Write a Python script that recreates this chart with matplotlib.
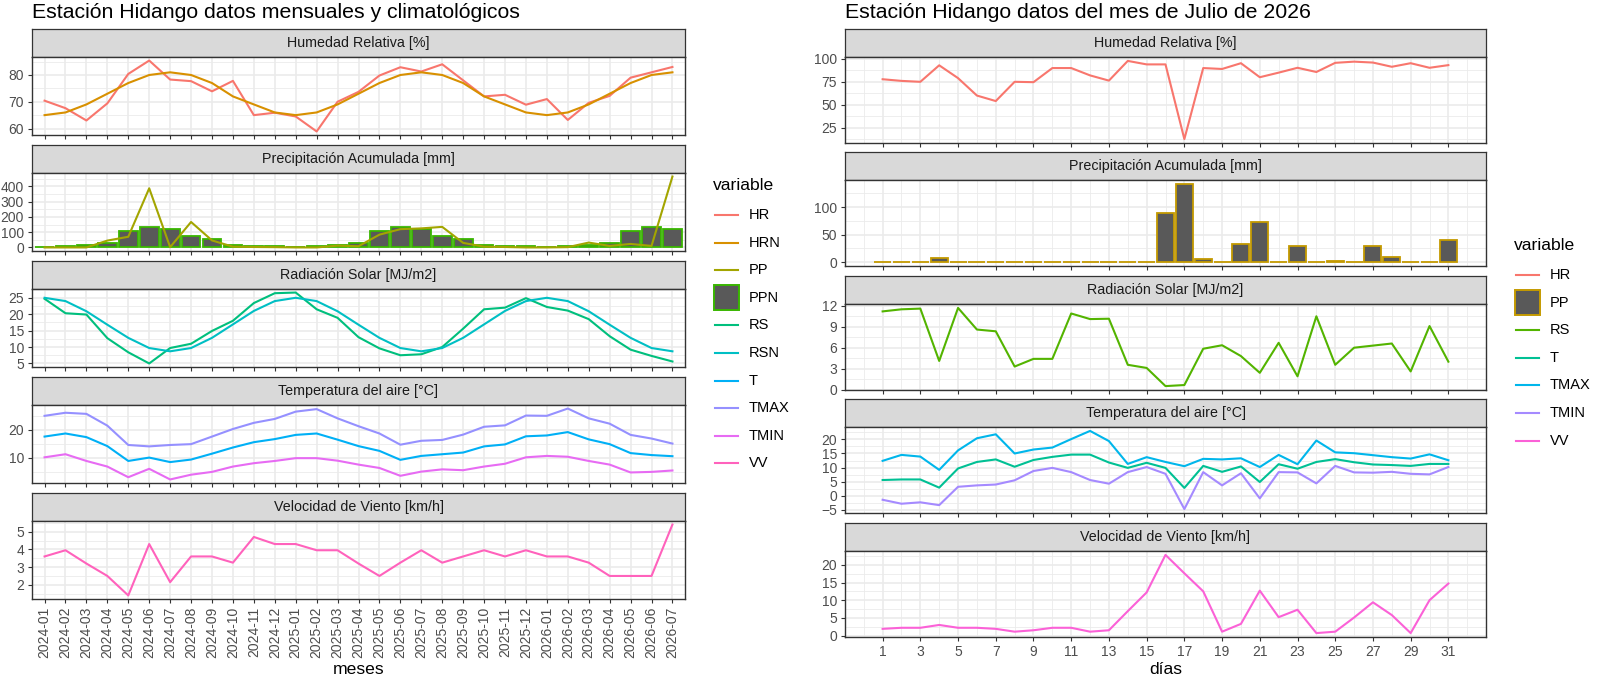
import matplotlib.pyplot as plt
import numpy as np
from matplotlib.lines import Line2D
from matplotlib.patches import Rectangle

plt.rcParams["font.family"] = ["Liberation Sans", "DejaVu Sans"]

# ---- monthly / climatological data (left chart) ----
meses = [
    "2024-01", "2024-02", "2024-03", "2024-04", "2024-05", "2024-06", "2024-07",
    "2024-08", "2024-09", "2024-10", "2024-11", "2024-12", "2025-01", "2025-02",
    "2025-03", "2025-04", "2025-05", "2025-06", "2025-07", "2025-08", "2025-09",
    "2025-10", "2025-11", "2025-12", "2026-01", "2026-02", "2026-03", "2026-04",
    "2026-05", "2026-06", "2026-07",
]
hr_m = [70.4, 67.6, 63.0, 69.4, 80.4, 85.4, 78.3, 77.7, 73.9, 77.8, 65.0, 65.9,
        64.5, 58.9, 70.0, 73.7, 79.8, 82.9, 81.3, 84.0, 78.0, 72.0, 72.6, 68.9,
        71.0, 63.2, 69.6, 72.2, 79.0, 81.0, 83.0]
hrn_m = [65, 66, 69, 73, 77, 80, 81, 80, 77, 72, 69, 66,
         65, 66, 69, 73, 77, 80, 81, 80, 77, 72, 69, 66,
         65, 66, 69, 73, 77, 80, 81]
pp_m = [0, 0, 0, 45, 70, 388, 2, 167, 46, 5, 3, 2,
        0, 0, 12, 8, 84, 120, 125, 135, 30, 5, 3, 0,
        0, 2, 32, 10, 23, 10, 465]
ppn_m = [1, 7, 18, 30, 110, 135, 122, 78, 55, 18, 12, 7,
         1, 7, 18, 30, 110, 135, 122, 78, 55, 18, 12, 7,
         1, 7, 18, 30, 110, 135, 122]
rs_m = [24.7, 20.3, 19.9, 12.7, 8.4, 5.0, 9.7, 11.0, 14.9, 18.0, 23.4, 26.4,
        26.6, 21.5, 18.9, 13.0, 9.6, 7.5, 7.8, 10.0, 15.6, 21.5, 22.0, 24.9,
        22.2, 21.1, 18.5, 13.3, 9.2, 7.3, 5.6]
rsn_m = [25.0, 24.0, 20.9, 16.8, 12.8, 9.7, 8.7, 9.7, 12.8, 16.9, 21.0, 24.0,
         25.0, 24.0, 20.9, 16.8, 12.8, 9.7, 8.7, 9.7, 12.8, 16.9, 21.0, 24.0,
         25.0, 24.0, 20.9, 16.8, 12.8, 9.7, 8.7]
t_m = [17.5, 18.6, 17.3, 14.1, 8.8, 10.0, 8.4, 9.3, 11.4, 13.6, 15.5, 16.6,
       18.1, 18.6, 16.4, 14.1, 12.4, 9.2, 10.6, 11.2, 11.8, 14.0, 14.7, 17.6,
       17.9, 19.1, 16.5, 14.8, 11.6, 10.9, 10.5]
tmax_m = [24.9, 26.0, 25.6, 21.4, 14.5, 14.0, 14.5, 14.8, 17.5, 20.2, 22.4, 23.8,
          26.4, 27.3, 24.0, 21.2, 18.6, 14.6, 16.0, 16.3, 18.2, 21.0, 21.5, 25.0,
          24.9, 27.5, 24.0, 22.1, 18.1, 16.8, 15.0]
tmin_m = [10.1, 11.2, 8.8, 6.8, 3.0, 6.0, 2.2, 3.9, 4.9, 6.8, 8.0, 8.8,
          9.8, 9.8, 8.9, 7.5, 6.3, 3.5, 5.0, 5.8, 5.5, 6.8, 7.8, 10.1,
          10.6, 10.3, 8.8, 7.5, 4.7, 4.9, 5.4]
vv_m = [3.6, 3.95, 3.2, 2.5, 1.4, 4.3, 2.15, 3.6, 3.6, 3.25, 4.7, 4.3,
        4.3, 3.95, 3.95, 3.2, 2.5, 3.25, 3.95, 3.25, 3.6, 3.95, 3.6, 3.95,
        3.6, 3.6, 3.25, 2.5, 2.5, 2.5, 5.4]

# ---- daily data, July 2026 (right chart) ----
dias = list(range(1, 32))
hr_d = [77.8, 76.0, 75.0, 93.0, 79.0, 60.0, 54.0, 75.0, 74.6, 90.0, 90.0, 82.0,
        76.3, 97.8, 94.0, 94.0, 12.5, 90.0, 89.0, 95.3, 80.0, 85.0, 90.3, 85.7,
        95.7, 97.0, 96.0, 91.4, 95.3, 90.3, 93.2]
pp_d = [0, 0, 0, 8, 0, 0, 0, 0.5, 0, 0, 0, 0, 0, 1, 0.5, 90, 142, 5, 0, 33,
        72, 0, 30, 0, 2, 1, 29, 10, 0, 1, 41]
rs_d = [11.2, 11.5, 11.6, 4.1, 11.7, 8.6, 8.35, 3.3, 4.4, 4.4, 10.9, 10.1,
        10.15, 3.55, 3.1, 0.5, 0.65, 5.85, 6.35, 4.8, 2.4, 6.7, 1.9, 10.5,
        3.55, 6.0, 6.3, 6.6, 2.6, 9.1, 4.0]
t_d = [5.6, 5.8, 5.8, 2.9, 9.7, 12.0, 12.9, 10.3, 12.7, 13.8, 14.6, 14.6,
       11.8, 9.9, 11.7, 9.9, 2.8, 10.6, 8.5, 10.4, 4.9, 11.2, 9.6, 12.0,
       13.0, 11.9, 11.1, 10.9, 10.6, 11.3, 11.3]
tmax_d = [12.4, 14.5, 13.9, 9.2, 16.1, 20.4, 21.8, 15.0, 16.4, 17.1, 20.1, 23.0,
          19.4, 11.3, 13.7, 12.0, 10.5, 13.1, 12.9, 13.3, 10.2, 14.5, 11.2, 19.6,
          15.4, 15.1, 14.4, 13.7, 13.2, 14.7, 12.6]
tmin_d = [-1.4, -2.8, -2.3, -3.3, 3.2, 3.7, 4.0, 5.5, 8.8, 9.9, 8.4, 5.6,
          4.3, 8.4, 10.2, 7.8, -4.7, 8.4, 3.7, 8.0, -0.9, 8.4, 8.3, 4.4,
          10.6, 8.3, 8.2, 8.5, 7.8, 7.6, 10.2]
vv_d = [1.9, 2.2, 2.2, 3.0, 2.2, 2.2, 1.9, 1.1, 1.5, 2.2, 2.2, 1.1, 1.5, 6.9,
        12.2, 22.8, 17.6, 12.5, 1.1, 3.3, 12.7, 5.2, 7.3, 0.7, 1.1, 5.1, 9.4,
        5.8, 0.7, 10.0, 14.7]

# ggplot hue palettes
COL_M = {"HR": "#F8766D", "HRN": "#D89000", "PP": "#A3A500", "PPN": "#39B600",
         "RS": "#00BF7D", "RSN": "#00BFC4", "T": "#00B0F6", "TMAX": "#9590FF",
         "TMIN": "#E76BF3", "VV": "#FF62BC"}
COL_D = {"HR": "#F8766D", "PP": "#C49A00", "RS": "#53B400", "T": "#00C094",
         "TMAX": "#00B6EB", "TMIN": "#A58AFF", "VV": "#FB61D7"}

W, H = 1600, 676
BAR_FILL = "#595959"
STRIP_FILL = "#D9D9D9"
DARK = "#333333"
GRID = "#EBEBEB"
LW = 1.5
FS_TICK = 10
FS_STRIP = 10.3

fig = plt.figure(figsize=(W / 100, H / 100), dpi=100)


def box(x0, y0, x1, y1):
    return [x0 / W, 1 - y1 / H, (x1 - x0) / W, (y1 - y0) / H]


def expand(lo, hi, m=0.05):
    d = hi - lo
    return lo - d * m, hi + d * m


def facet(x0, x1, top, strip_h, panel_h, title):
    sax = fig.add_axes(box(x0, top, x1, top + strip_h))
    sax.set_facecolor(STRIP_FILL)
    sax.set_xticks([])
    sax.set_yticks([])
    for s in sax.spines.values():
        s.set_color(DARK)
        s.set_linewidth(0.9)
    sax.text(0.5, 0.5, title, ha="center", va="center", fontsize=FS_STRIP,
             color="#1A1A1A", transform=sax.transAxes)
    ax = fig.add_axes(box(x0, top + strip_h, x1, top + strip_h + panel_h))
    for s in ax.spines.values():
        s.set_color(DARK)
        s.set_linewidth(1.0)
    ax.tick_params(colors=DARK, labelcolor="#4D4D4D", labelsize=FS_TICK,
                   length=3.2, width=0.8, pad=2.5)
    ax.tick_params(which="minor", length=0)
    ax.set_axisbelow(True)
    return ax


def y_scale(ax, ticks, lo, hi):
    ylo, yhi = expand(lo, hi)
    ax.set_ylim(ylo, yhi)
    ax.set_yticks(ticks)
    step = ticks[1] - ticks[0]
    minor = np.arange(ticks[0] - step / 2, ticks[-1] + step, step)
    ax.set_yticks([m for m in minor if ylo < m < yhi], minor=True)
    ax.grid(True, which="major", axis="y", color=GRID, lw=1.2)
    ax.grid(True, which="minor", axis="y", color=GRID, lw=0.6)


def draw_legend(x0, y_title, names, colors, bar_name):
    fig.text(x0 / W, 1 - y_title / H, "variable", fontsize=12.6,
             va="center", ha="left", color="black")
    for i, n in enumerate(names):
        y = y_title + 30 + 27.6 * i
        fy = 1 - y / H
        if n == bar_name:
            fig.add_artist(Rectangle(((x0 + 0.5) / W, 1 - (y + 12.5) / H), 25 / W, 25 / H,
                                     transform=fig.transFigure, facecolor=BAR_FILL,
                                     edgecolor=colors[n], lw=1.4))
        else:
            fig.add_artist(Line2D([(x0 + 2) / W, (x0 + 25) / W], [fy, fy],
                                  transform=fig.transFigure, color=colors[n], lw=LW))
        fig.text((x0 + 36) / W, fy, n, fontsize=10.5, va="center", ha="left")


titles = ["Humedad Relativa [%]", "Precipitación Acumulada [mm]", "Radiación Solar [MJ/m2]",
          "Temperatura del aire [°C]", "Velocidad de Viento [km/h]"]

# ---------------- left chart ----------------
LX0, LX1 = 32, 685
l_tops = [29, 145, 261, 377, 493]
l_strip, l_panel = 28, 78
xm = np.arange(len(meses))

fig.text(LX0 / W, 1 - 12 / H, "Estación Hidango datos mensuales y climatológicos",
         fontsize=15.3, va="center", ha="left")

left_axes = []
for k, ttl in enumerate(titles):
    ax = facet(LX0, LX1, l_tops[k], l_strip, l_panel, ttl)
    ax.set_xlim(-0.6, len(meses) - 0.4)
    ax.set_xticks(xm)
    ax.grid(True, which="major", axis="x", color=GRID, lw=1.2)
    if k < 4:
        ax.tick_params(axis="x", labelbottom=False)
    left_axes.append(ax)

ax = left_axes[0]
ax.plot(xm, hr_m, color=COL_M["HR"], lw=LW)
ax.plot(xm, hrn_m, color=COL_M["HRN"], lw=LW)
y_scale(ax, [60, 70, 80], min(hr_m + hrn_m), max(hr_m + hrn_m))

ax = left_axes[1]
ax.bar(xm, ppn_m, width=0.9, color=BAR_FILL, edgecolor=COL_M["PPN"], lw=1.3)
ax.plot(xm, pp_m, color=COL_M["PP"], lw=LW)
y_scale(ax, [0, 100, 200, 300, 400], 0, max(pp_m + ppn_m))

ax = left_axes[2]
ax.plot(xm, rs_m, color=COL_M["RS"], lw=LW)
ax.plot(xm, rsn_m, color=COL_M["RSN"], lw=LW)
y_scale(ax, [5, 10, 15, 20, 25], min(rs_m + rsn_m), max(rs_m + rsn_m))

ax = left_axes[3]
ax.plot(xm, t_m, color=COL_M["T"], lw=LW)
ax.plot(xm, tmax_m, color=COL_M["TMAX"], lw=LW)
ax.plot(xm, tmin_m, color=COL_M["TMIN"], lw=LW)
y_scale(ax, [10, 20], min(tmin_m), max(tmax_m))

ax = left_axes[4]
ax.plot(xm, vv_m, color=COL_M["VV"], lw=LW)
y_scale(ax, [2, 3, 4, 5], min(vv_m), max(vv_m))
ax.set_xticklabels(meses, rotation=90, fontsize=FS_TICK)
fig.text((LX0 + LX1) / 2 / W, 1 - 670 / H, "meses", fontsize=12.6, ha="center", va="center")

draw_legend(713, 185, list(COL_M.keys()), COL_M, "PPN")

# ---------------- right chart ----------------
RX0, RX1 = 845, 1486
r_tops = [29, 152, 276, 399, 523]
r_strip, r_panel = 28, 86
xd = np.array(dias)

fig.text(RX0 / W, 1 - 12 / H, "Estación Hidango datos del mes de Julio de 2026",
         fontsize=15.3, va="center", ha="left")

xlo, xhi = expand(xd.min() - 0.45, xd.max() + 0.45)
right_axes = []
for k, ttl in enumerate(titles):
    ax = facet(RX0, RX1, r_tops[k], r_strip, r_panel, ttl)
    ax.set_xlim(xlo, xhi)
    ax.set_xticks(xd[::2])
    ax.set_xticks(np.arange(0, 33, 2), minor=True)
    ax.grid(True, which="major", axis="x", color=GRID, lw=1.2)
    ax.grid(True, which="minor", axis="x", color=GRID, lw=0.6)
    if k < 4:
        ax.tick_params(axis="x", labelbottom=False)
    right_axes.append(ax)

ax = right_axes[0]
ax.plot(xd, hr_d, color=COL_D["HR"], lw=LW)
y_scale(ax, [25, 50, 75, 100], min(hr_d), max(hr_d))

ax = right_axes[1]
ax.bar(xd, pp_d, width=0.9, color=BAR_FILL, edgecolor=COL_D["PP"], lw=1.3)
y_scale(ax, [0, 50, 100], 0, max(pp_d))

ax = right_axes[2]
ax.plot(xd, rs_d, color=COL_D["RS"], lw=LW)
y_scale(ax, [0, 3, 6, 9, 12], min(rs_d), max(rs_d))

ax = right_axes[3]
ax.plot(xd, t_d, color=COL_D["T"], lw=LW)
ax.plot(xd, tmax_d, color=COL_D["TMAX"], lw=LW)
ax.plot(xd, tmin_d, color=COL_D["TMIN"], lw=LW)
y_scale(ax, [-5, 0, 5, 10, 15, 20], min(tmin_d), max(tmax_d))

ax = right_axes[4]
ax.plot(xd, vv_d, color=COL_D["VV"], lw=LW)
y_scale(ax, [0, 5, 10, 15, 20], min(vv_d), max(vv_d))
ax.set_xticklabels([str(d) for d in dias[::2]], fontsize=FS_TICK)
fig.text((RX0 + RX1) / 2 / W, 1 - 670 / H, "días", fontsize=12.6, ha="center", va="center")

draw_legend(1514, 245, list(COL_D.keys()), COL_D, "PP")

fig.savefig("out.png", dpi=100)
